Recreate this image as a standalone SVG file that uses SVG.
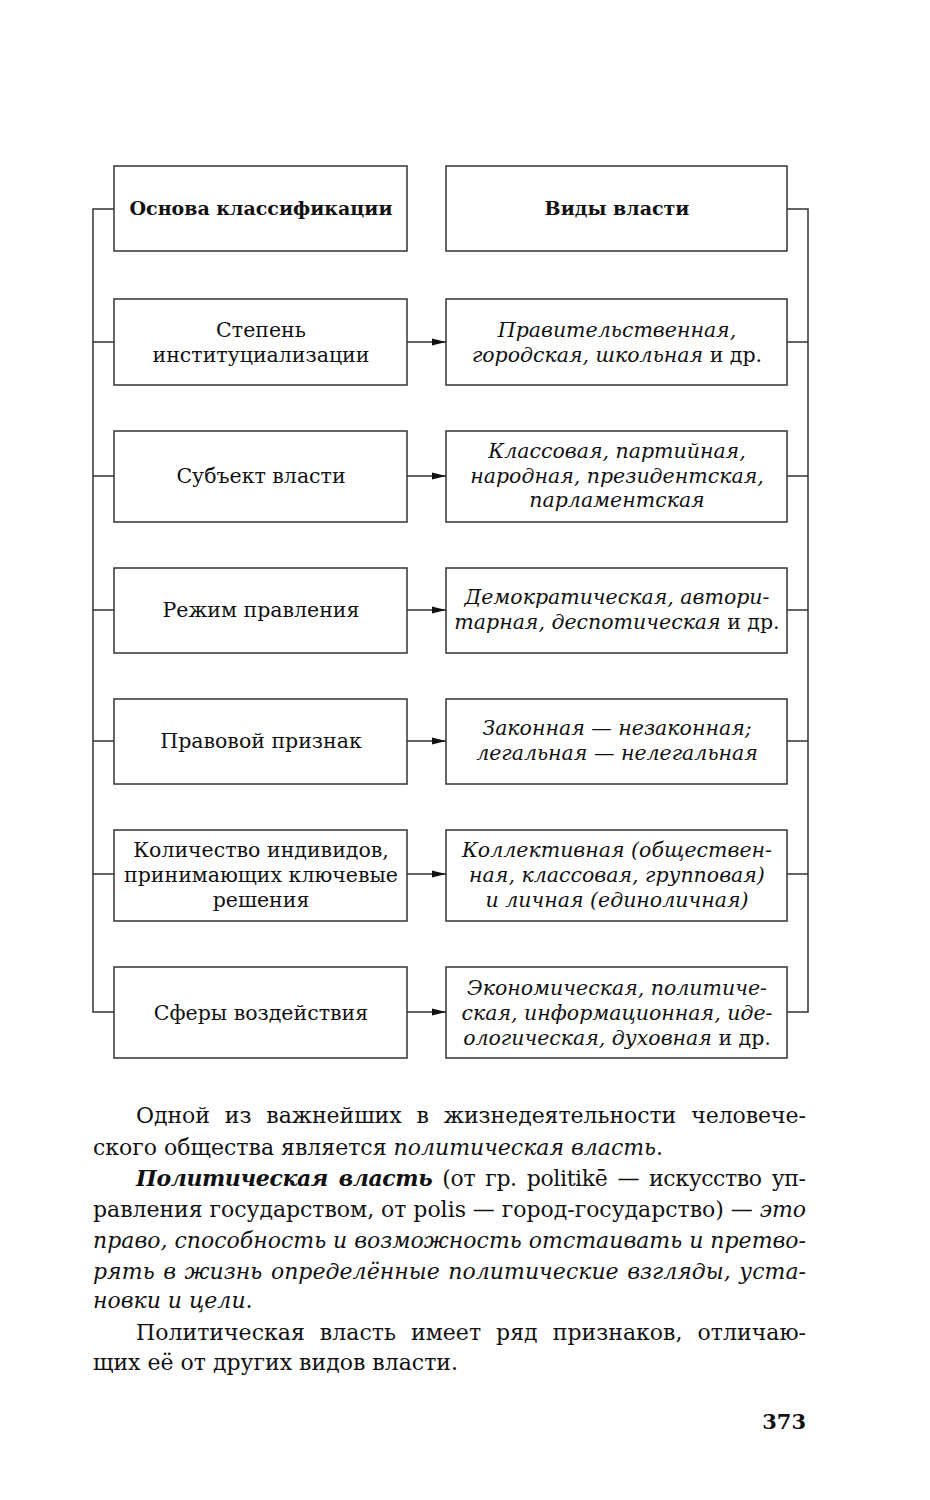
<svg xmlns="http://www.w3.org/2000/svg" width="930" height="1500" viewBox="0 0 930 1500">
<style>
.box{fill:#fff;stroke:#333;stroke-width:1.5}
.ln{fill:none;stroke:#333;stroke-width:1.5}
.t{font-family:"DejaVu Serif","Liberation Serif",serif;font-size:20.5px;fill:#111;text-anchor:middle}
.b{font-weight:bold;font-size:19px}
.i{font-style:italic}
.n{font-style:normal}
.bi{font-style:italic;font-weight:bold}
.p{font-family:"DejaVu Serif","Liberation Serif",serif;font-size:22px;fill:#111}
.pg{font-family:"DejaVu Serif","Liberation Serif",serif;font-size:21px;font-weight:bold;fill:#111;text-anchor:end}
</style>
<defs>
<marker id="ah" markerWidth="14" markerHeight="8" refX="14" refY="4" orient="auto" markerUnits="userSpaceOnUse">
<path d="M0,0.5 L14,4 L0,7.5 Z" fill="#111"/>
</marker>
</defs>
<rect width="930" height="1500" fill="#fff"/>
<g id="connectors">
<path class="ln" d="M114,209 H93 V1012 H114 M93,342 H114 M93,476 H114 M93,610 H114 M93,741 H114 M93,874 H114"/>
<path class="ln" d="M787,209 H808 V1012 H787 M808,342 H787 M808,476 H787 M808,610 H787 M808,741 H787 M808,874 H787"/>
<line class="ln" x1="407" y1="342" x2="446" y2="342" marker-end="url(#ah)"/>
<line class="ln" x1="407" y1="476" x2="446" y2="476" marker-end="url(#ah)"/>
<line class="ln" x1="407" y1="610" x2="446" y2="610" marker-end="url(#ah)"/>
<line class="ln" x1="407" y1="741" x2="446" y2="741" marker-end="url(#ah)"/>
<line class="ln" x1="407" y1="874" x2="446" y2="874" marker-end="url(#ah)"/>
<line class="ln" x1="407" y1="1012" x2="446" y2="1012" marker-end="url(#ah)"/>
</g>
<g id="h1"><rect class="box" x="114" y="166" width="293" height="85"/><text class="t b" x="261" y="215">Основа классификации</text></g>
<g id="h2"><rect class="box" x="446" y="166" width="341" height="85"/><text class="t b" x="617" y="215">Виды власти</text></g>
<g id="l1"><rect class="box" x="114" y="299" width="293" height="86"/><text class="t" x="261" y="337">Степень</text><text class="t" x="261" y="362">институциализации</text></g>
<g id="r1"><rect class="box" x="446" y="299" width="341" height="86"/><text class="t i" x="617" y="337">Правительственная,</text><text class="t i" x="617" y="362">городская, школьная<tspan class="n"> и др.</tspan></text></g>
<g id="l2"><rect class="box" x="114" y="431" width="293" height="91"/><text class="t" x="261" y="483">Субъект власти</text></g>
<g id="r2"><rect class="box" x="446" y="431" width="341" height="91"/><text class="t i" x="617" y="458">Классовая, партийная,</text><text class="t i" x="617" y="483">народная, президентская,</text><text class="t i" x="617" y="507">парламентская</text></g>
<g id="l3"><rect class="box" x="114" y="568" width="293" height="85"/><text class="t" x="261" y="617">Режим правления</text></g>
<g id="r3"><rect class="box" x="446" y="568" width="341" height="85"/><text class="t i" x="617" y="604">Демократическая, автори-</text><text class="t i" x="617" y="629">тарная, деспотическая<tspan class="n"> и др.</tspan></text></g>
<g id="l4"><rect class="box" x="114" y="699" width="293" height="85"/><text class="t" x="261" y="748">Правовой признак</text></g>
<g id="r4"><rect class="box" x="446" y="699" width="341" height="85"/><text class="t i" x="617" y="735">Законная — незаконная;</text><text class="t i" x="617" y="760">легальная — нелегальная</text></g>
<g id="l5"><rect class="box" x="114" y="830" width="293" height="91"/><text class="t" x="261" y="857">Количество индивидов,</text><text class="t" x="261" y="882">принимающих ключевые</text><text class="t" x="261" y="907">решения</text></g>
<g id="r5"><rect class="box" x="446" y="830" width="341" height="91"/><text class="t i" x="617" y="857">Коллективная (обществен-</text><text class="t i" x="617" y="882">ная, классовая, групповая)</text><text class="t i" x="617" y="907">и личная (единоличная)</text></g>
<g id="l6"><rect class="box" x="114" y="967" width="293" height="91"/><text class="t" x="261" y="1020">Сферы воздействия</text></g>
<g id="r6"><rect class="box" x="446" y="967" width="341" height="91"/><text class="t i" x="617" y="995">Экономическая, политиче-</text><text class="t i" x="617" y="1020">ская, информационная, иде-</text><text class="t i" x="617" y="1045">ологическая, духовная<tspan class="n"> и др.</tspan></text></g>
<g id="text">
<text class="p" x="136" y="1123" word-spacing="8" textLength="670" lengthAdjust="spacing">Одной из важнейших в жизнедеятельности человече-</text>
<text class="p" x="93" y="1155">ского общества является <tspan class="i">политическая власть</tspan>.</text>
<text class="p" x="136" y="1186" word-spacing="3.5" textLength="670" lengthAdjust="spacing"><tspan class="bi">Политическая власть</tspan> (от гр. politikē — искусство уп-</text>
<text class="p" x="93" y="1217" textLength="713" lengthAdjust="spacing">равления государством, от polis — город-государство) — <tspan class="i">это</tspan></text>
<text class="p i" x="93" y="1248" textLength="713" lengthAdjust="spacing">право, способность и возможность отстаивать и претво-</text>
<text class="p i" x="93" y="1279" word-spacing="1.5" textLength="713" lengthAdjust="spacing">рять в жизнь определённые политические взгляды, уста-</text>
<text class="p" x="93" y="1308"><tspan class="i">новки и цели</tspan>.</text>
<text class="p" x="136" y="1340" word-spacing="8" textLength="670" lengthAdjust="spacing">Политическая власть имеет ряд признаков, отличаю-</text>
<text class="p" x="93" y="1370">щих её от других видов власти.</text>
<text class="pg" x="806" y="1429">373</text>
</g>
</svg>
